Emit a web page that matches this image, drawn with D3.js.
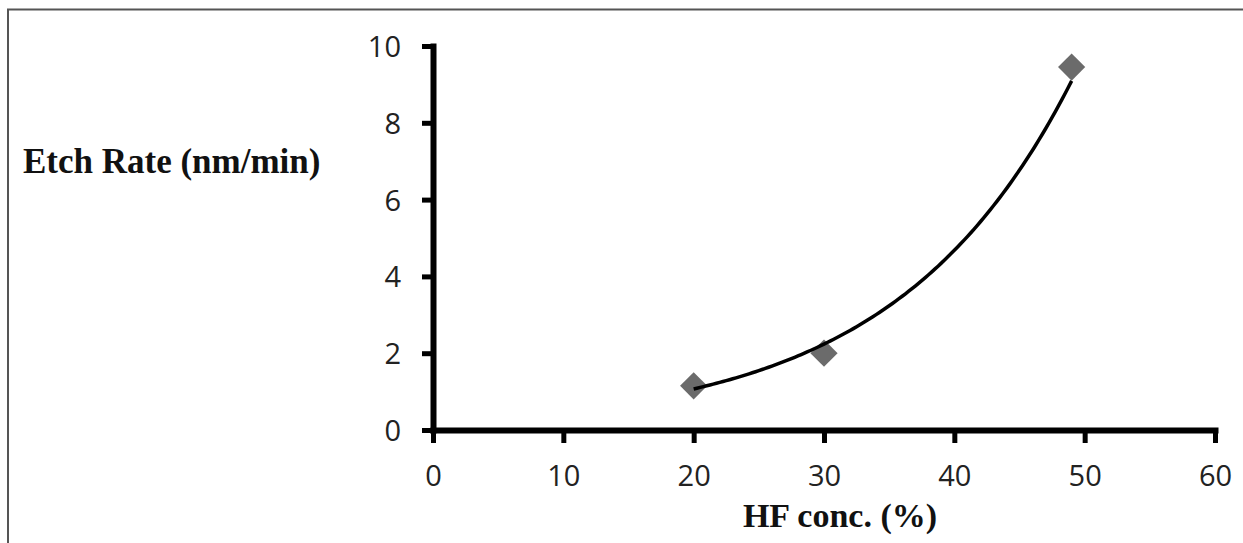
<!DOCTYPE html>
<html>
<head>
<meta charset="utf-8">
<script src="https://cdn.jsdelivr.net/npm/d3@7"></script>
<style>
    body { margin: 0; background: #fff; }
    svg { display: block; }
    .tick text { font-family: "Open Sans", sans-serif; font-size: 29px; fill: #222; }
    .axis-title { font-family: "Liberation Serif", "Times New Roman", serif; font-weight: bold; fill: #111; }
</style>
</head>
<body>
<svg id="chart" width="1243" height="543"></svg>
<script>
// data
const hfConc = [20, 30, 49];
const etchRate = [1.15, 2.0, 9.45];
const xTicks = [0, 10, 20, 30, 40, 50, 60];
const yTicks = [0, 2, 4, 6, 8, 10];

const svg = d3.select("#chart");

// frame of the picture (only top and left edges show)
svg.append("path")
    .attr("d", "M8,543V9.5H1243")
    .attr("fill", "none")
    .attr("stroke", "#555")
    .attr("stroke-width", 2);

const x = d3.scaleLinear().domain([0, 60]).range([433, 1215]);
const y = d3.scaleLinear().domain([0, 10]).range([430, 46]);

// y axis
const gy = svg.append("g")
    .attr("transform", `translate(${x(0)},0)`)
    .call(d3.axisLeft(y).tickValues(yTicks).tickSize(11).tickSizeOuter(0).tickPadding(21));

// x axis
const gx = svg.append("g")
    .attr("transform", `translate(0,${y(0)})`)
    .call(d3.axisBottom(x).tickValues(xTicks).tickSize(13).tickSizeOuter(0).tickPadding(22));

[gx, gy].forEach(g => {
    g.select(".domain")
        .attr("stroke", "#000")
        .attr("stroke-width", 6)
        .attr("stroke-linecap", "square");
    g.selectAll(".tick line")
        .attr("stroke", "#000")
        .attr("stroke-width", 5);
});
gy.selectAll(".tick text").attr("dy", "0.36em");

// exponential trendline y = a*e^(b x), least squares on ln(y)
const lx = hfConc, ly = etchRate.map(Math.log);
const mx = d3.mean(lx), my = d3.mean(ly);
const b = d3.sum(lx, (v, i) => (v - mx) * (ly[i] - my)) / d3.sum(lx, v => (v - mx) * (v - mx));
const a = Math.exp(my - b * mx);
const trend = d3.range(d3.min(hfConc), d3.max(hfConc) + 0.01, 0.25).map(v => [v, a * Math.exp(b * v)]);

const line = d3.line().x(d => x(d[0])).y(d => y(d[1]));

// markers: grey diamonds
const diamond = d3.symbol().type(d3.symbolSquare).size(370);
svg.append("g").selectAll("path")
    .data(hfConc.map((v, i) => [v, etchRate[i]]))
    .join("path")
    .attr("d", diamond)
    .attr("transform", d => `translate(${x(d[0])},${y(d[1])}) rotate(45)`)
    .attr("fill", "#6b6b6b");

svg.append("path")
    .datum(trend)
    .attr("d", line)
    .attr("fill", "none")
    .attr("stroke", "#000")
    .attr("stroke-width", 3.5);

// axis titles
svg.append("text")
    .attr("class", "axis-title")
    .attr("x", 23)
    .attr("y", 173)
    .style("font-size", "35px")
    .text("Etch Rate (nm/min)");

svg.append("text")
    .attr("class", "axis-title")
    .attr("x", 840)
    .attr("y", 527)
    .attr("text-anchor", "middle")
    .style("font-size", "34px")
    .text("HF conc. (%)");
</script>
</body>
</html>
